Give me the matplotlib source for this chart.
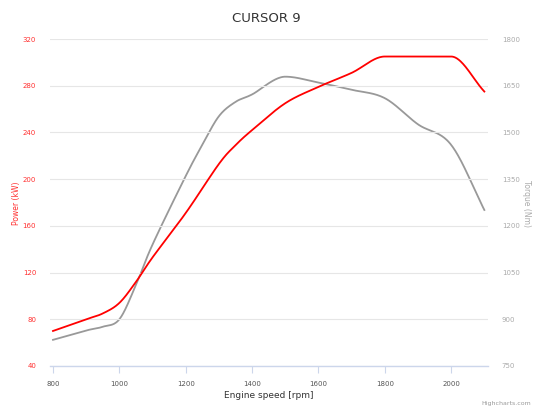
import numpy as np
import matplotlib
matplotlib.use("Agg")
import matplotlib.pyplot as plt

# engine speed [rpm]
rpm_power = [800, 900, 950, 1000, 1050, 1100, 1200, 1300, 1350,
             1400, 1500, 1600, 1700, 1800, 1900, 2000, 2100]
power_kw = [70, 80, 85, 94, 112, 133, 171, 213, 229,
            242, 265, 279, 291, 305, 305, 305, 275]

rpm_torque = [800, 900, 950, 1000, 1050, 1100, 1200, 1250, 1300, 1350,
              1400, 1500, 1600, 1700, 1800, 1900, 2000, 2100]
torque_nm = [834, 864, 876, 900, 1010, 1140, 1360, 1460, 1552, 1598,
             1622, 1679, 1660, 1637, 1610, 1526, 1460, 1251]

x_ticks = [800, 1000, 1200, 1400, 1600, 1800, 2000]
power_ticks = [40, 80, 120, 160, 200, 240, 280, 320]
torque_ticks = [750, 900, 1050, 1200, 1350, 1500, 1650, 1800]


def smooth(x, y, n=40):
    # catmull-rom style curve through the points, like a chart "spline"
    x = np.asarray(x, float)
    y = np.asarray(y, float)
    mx = np.gradient(x)
    my = np.gradient(y)
    # keep flat stretches flat
    for i in range(1, len(y) - 1):
        if (y[i] - y[i - 1]) * (y[i + 1] - y[i]) <= 0:
            my[i] = 0
    xs, ys = [], []
    t = np.linspace(0, 1, n)
    h00 = 2 * t**3 - 3 * t**2 + 1
    h10 = t**3 - 2 * t**2 + t
    h01 = -2 * t**3 + 3 * t**2
    h11 = t**3 - t**2
    for i in range(len(x) - 1):
        xs.append(h00 * x[i] + h10 * mx[i] + h01 * x[i + 1] + h11 * mx[i + 1])
        ys.append(h00 * y[i] + h10 * my[i] + h01 * y[i + 1] + h11 * my[i + 1])
    return np.concatenate(xs), np.concatenate(ys)


fig = plt.figure(figsize=(5.33, 4.07), dpi=100)
ax = fig.add_axes([50 / 533, 1 - 366 / 407, 438 / 533, 327 / 407])
ax2 = ax.twinx()

grid_c = "#e6e6e6"
axis_c = "#ccd6eb"

for t in power_ticks:
    ax.axhline(t, color=grid_c, lw=0.8, zorder=0)

xs, ys = smooth(rpm_torque, torque_nm)
ax2.plot(xs, ys, color="#999999", lw=1.3, zorder=3)
xs, ys = smooth(rpm_power, power_kw)
ax.plot(xs, ys, color="#ff0000", lw=1.3, zorder=4)
ax.set_zorder(ax2.get_zorder() + 1)
ax.patch.set_visible(False)

ax.set_xlim(791, 2111)
ax.set_ylim(40, 320)
ax2.set_ylim(750, 1800)

ax.set_xticks(x_ticks)
ax.set_yticks(power_ticks)
ax2.set_yticks(torque_ticks)

for a in (ax, ax2):
    for s in a.spines.values():
        s.set_visible(False)
ax.spines["bottom"].set_visible(True)
ax.spines["bottom"].set_color(axis_c)
ax.spines["bottom"].set_linewidth(1)

ax.tick_params(axis="x", length=5, width=0.8, color=axis_c, labelsize=5,
               labelcolor="#555555", pad=6)
ax.tick_params(axis="y", length=0, labelsize=5, labelcolor="#ff3030", pad=10)
ax2.tick_params(axis="y", length=0, labelsize=5, labelcolor="#aaaaaa", pad=10)
ax2.tick_params(axis="x", length=0)

ax.set_xlabel("Engine speed [rpm]", fontsize=6.5, color="#333333", labelpad=3)
fig.text(16 / 533, 1 - 203 / 407, "Power (kW)", rotation=90, ha="center",
         va="center", fontsize=5.5, color="#ff3030")
fig.text(526 / 533, 1 - 203 / 407, "Torque (Nm)", rotation=270, ha="center",
         va="center", fontsize=5.5, color="#aaaaaa")

fig.text(0.5, 1 - 18 / 407, "CURSOR 9", ha="center", va="center",
         fontsize=9.5, color="#333333")
fig.text(1 - 2 / 533, 1 - 404 / 407, "Highcharts.com", ha="right", va="center",
         fontsize=4.5, color="#999999")

fig.savefig("out.png", dpi=100)
